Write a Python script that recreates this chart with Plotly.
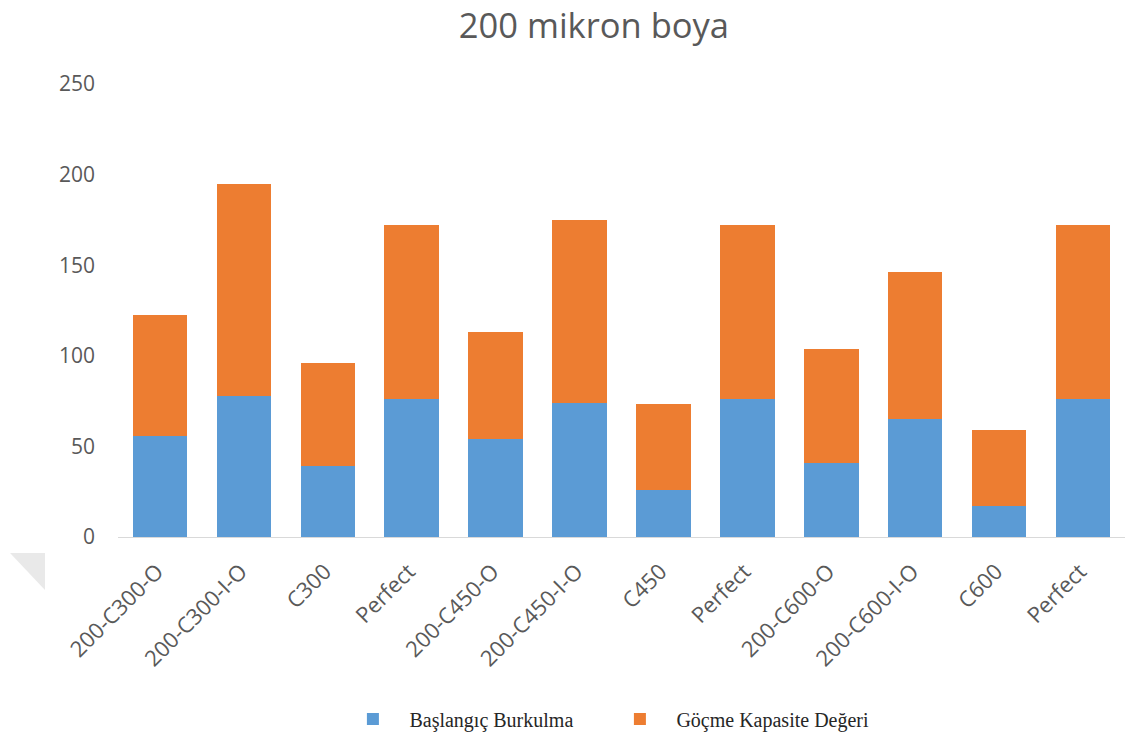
import plotly.graph_objects as go

# Specimen labels (Perfect appears once per group, so bars are placed by index)
categories = ["200-C300-O", "200-C300-I-O", "C300", "Perfect",
              "200-C450-O", "200-C450-I-O", "C450", "Perfect",
              "200-C600-O", "200-C600-I-O", "C600", "Perfect"]

# Initial buckling load
baslangic = [56, 78, 39, 76, 54, 74, 26, 76, 41, 65, 17, 76]
# Additional load up to collapse capacity (stacked on top)
gocme = [66.5, 117, 57, 96, 59, 101, 47.5, 96, 62.5, 81.5, 42, 96]

y_ticks = [0, 50, 100, 150, 200, 250]

positions = list(range(len(categories)))
sans = "Open Sans, Lato, sans-serif"
grey = "#595959"

fig = go.Figure()
fig.add_trace(go.Bar(x=positions, y=baslangic, name="Başlangıç Burkulma",
                     marker=dict(color="#5b9bd5", line=dict(width=0))))
fig.add_trace(go.Bar(x=positions, y=gocme, name="Göçme Kapasite Değeri",
                     marker=dict(color="#ed7d31", line=dict(width=0))))

fig.update_layout(
    barmode="stack",
    bargap=0.35,
    width=1127, height=735,
    margin=dict(l=118, r=2, t=84, b=198),
    paper_bgcolor="white", plot_bgcolor="white",
    title=dict(text="200 mikron boya", x=0.527, xanchor="center",
               y=1 - 26 / 735, yanchor="middle",
               font=dict(family=sans, size=34.5, color=grey)),
    xaxis=dict(tickmode="array", tickvals=positions, ticktext=categories,
               tickangle=-45, tickfont=dict(family=sans, size=22, color=grey),
               ticklabelshift=-3, ticklabelstandoff=12,
               range=[-0.5, len(categories) - 0.5],
               showline=True, linecolor="#d9d9d9", linewidth=1,
               showgrid=False, zeroline=False, ticks=""),
    yaxis=dict(range=[0, 250], tickmode="array", tickvals=y_ticks,
               tickfont=dict(family=sans, size=21, color=grey),
               showgrid=False, zeroline=False,
               showline=False, ticks="", ticklabelstandoff=22),
    legend=dict(orientation="h", xref="container", yref="container",
                x=0.2985, xanchor="left", y=1 - 719 / 735, yanchor="middle",
                font=dict(family="Liberation Serif, Times New Roman, serif", size=20, color="#262626"),
                itemwidth=63, traceorder="normal", entrywidth=189),
    showlegend=True,
)

# Faint corner triangle on the page
fig.add_shape(type="path", xref="paper", yref="paper",
              path="M -0.1072 -0.0353 L -0.0725 -0.0353 L -0.0725 -0.117 Z",
              fillcolor="#e9e9e9", line=dict(width=0), layer="below")

fig.write_html("out.html")
